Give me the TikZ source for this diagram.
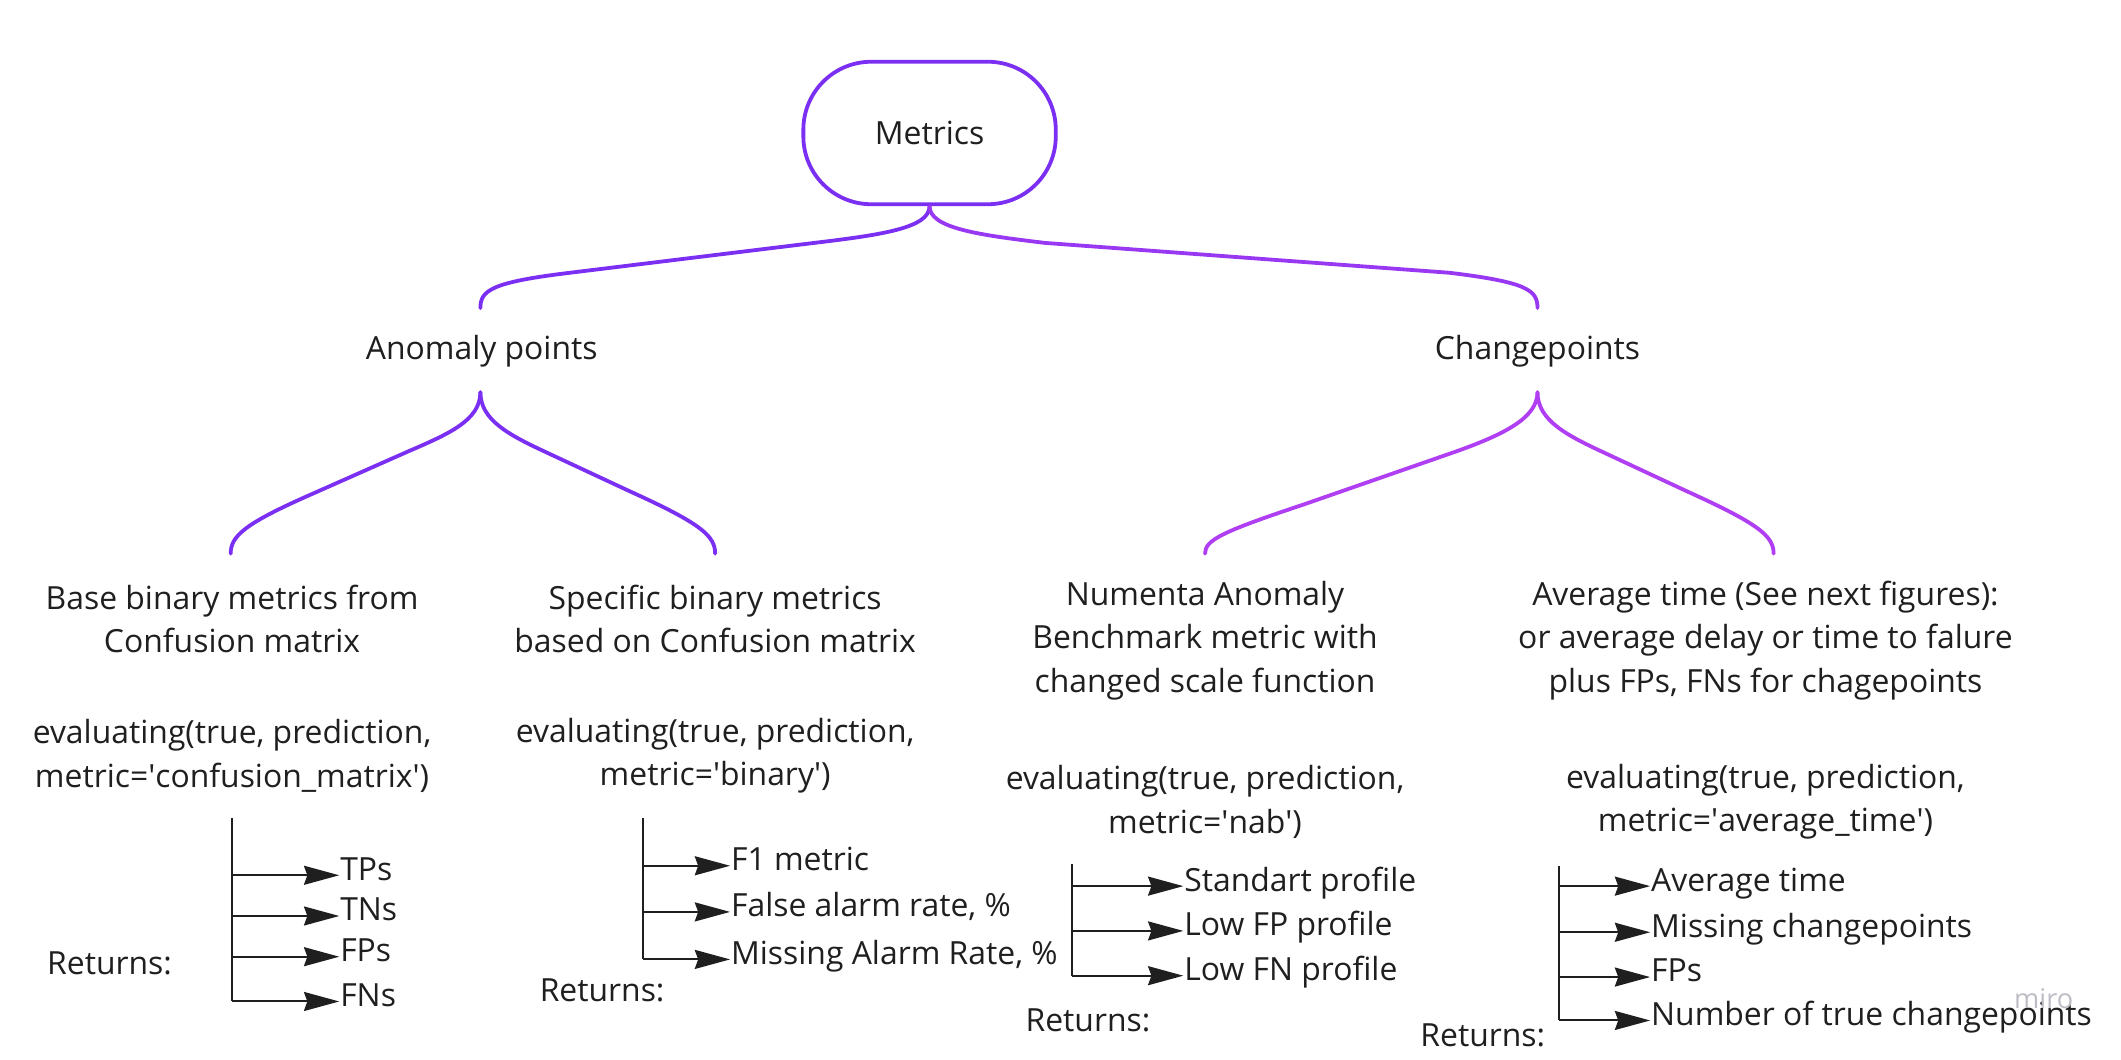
\documentclass[tikz,border=0pt]{standalone}
\usepackage{fontspec}
\setmainfont{Open Sans}
\usetikzlibrary{arrows.meta,calc}
\definecolor{mmviolet}{HTML}{7B2FF2}
\definecolor{mmpurple}{HTML}{9838F2}
\definecolor{mmorchid}{HTML}{B03EF2}
\definecolor{mmtext}{HTML}{1F1F1F}
\definecolor{mmmark}{HTML}{BDBDC6}
\tikzset{every picture/.style={line width=1.5pt}}
\tikzset{
	bracket/.style={line width=2.8pt, line cap=round},
	pill/.style={draw=mmviolet, line width=2.8pt, rounded corners=50pt, minimum width=186pt, minimum height=105pt, text=mmtext},
	txt/.style={align=center, text=mmtext, inner sep=0pt},
	retlabel/.style={anchor=west, text=mmtext, inner sep=0pt},
	leaf/.style={anchor=west, text=mmtext, inner sep=0pt, text height=0.72em, text depth=0pt},
	stem/.style={draw=mmtext, line width=1.5pt},
	leafarrow/.style={draw=mmtext, line width=1.5pt, -{Stealth[length=26pt,width=14pt,inset=2.5pt]}}}
\newcommand{\q}{\textquotesingle}

\begin{document}
\begin{tikzpicture}[x=1pt,y=1pt,yscale=-1,xscale=1,font=\fontsize{23.5pt}{32pt}\selectfont]
	\useasboundingbox (0,0) rectangle (1563,781);

	% Root
	\node[pill] (metrics) at (685,98) {Metrics};
	% Text Node
	\node[txt] (anomaly) at (355,259) {Anomaly points};
	% Text Node
	\node[txt] (change) at (1133,259) {Changepoints};

	\coordinate (ap-top) at (354,227);
	\coordinate (cp-top) at (1133,227);
	\coordinate (ap-bot) at (354,289);
	\coordinate (cp-bot) at (1133,289);
	\coordinate (col1) at (170,408);
	\coordinate (col2) at (527,408);
	\coordinate (col3) at (888,408);
	\coordinate (col4) at (1307,408);

	%Curve Lines
	\draw[bracket, mmviolet] (metrics.south) .. controls (685,168) and (650,173) .. (600,179) -- (420,201) .. controls (362,208) and (354,214) .. (ap-top);
	%Curve Lines
	\draw[bracket, mmpurple] (metrics.south) .. controls (685,168) and (720,173) .. (770,179) -- (1068,201) .. controls (1126,208) and (1133,214) .. (cp-top);
	%Curve Lines
	\draw[bracket, mmviolet] (ap-bot) .. controls (354,310) and (330,320) .. (300,333) -- (230,364) .. controls (180,386) and (170,395) .. (col1);
	\draw[bracket, mmviolet] (ap-bot) .. controls (354,310) and (376,321) .. (404,334) -- (464,362) .. controls (517,386) and (527,395) .. (col2);
	%Curve Lines
	\draw[bracket, mmorchid] (cp-bot) .. controls (1133,308) and (1108,320) .. (1075,332) -- (960,372) .. controls (900,392) and (888,398) .. (col3);
	\draw[bracket, mmorchid] (cp-bot) .. controls (1133,310) and (1155,321) .. (1183,334) -- (1243,362) .. controls (1296,386) and (1307,395) .. (col4);

	% Text Node
	\node[txt] (base) at (171,456) {Base binary metrics from\\Confusion matrix};
	\node[txt] (basecall) at (171,557) {evaluating(true, prediction,\\metric=\q confusion\_matrix\q)};
	% Text Node
	\node[txt] (binary) at (527,456) {Specific binary metrics\\based on Confusion matrix};
	\node[txt] (binarycall) at (527,557) {evaluating(true, prediction,\\metric=\q binary\q)};
	% Text Node
	\node[txt] (nab) at (888,472) {Numenta Anomaly\\Benchmark metric with\\changed scale function};
	\node[txt] (nabcall) at (888,591) {evaluating(true, prediction,\\metric=\q nab\q)};
	% Text Node
	\node[txt] (avg) at (1301,472) {Average time (See next figures):\\or average delay or time to falure\\plus FPs, FNs for chagepoints};
	\node[txt] (avgcall) at (1301,591) {evaluating(true, prediction,\\metric=\q average\_time\q)};

	% Returns: confusion matrix
	\node[retlabel] (ret1) at (34,710) {Returns:};
	\coordinate (s1) at (171,603);
	\node[leaf] (tps) at (250,645) {TPs};
	\node[leaf] (tns) at (250,675) {TNs};
	\node[leaf] (fps) at (250,705) {FPs};
	\node[leaf] (fns) at (250,738) {FNs};
	\draw[stem] (s1) -- (s1 |- fns.west);
	\draw[leafarrow] (s1 |- tps.west) -- (tps.west);
	\draw[leafarrow] (s1 |- tns.west) -- (tns.west);
	\draw[leafarrow] (s1 |- fps.west) -- (fps.west);
	\draw[leafarrow] (s1 |- fns.west) -- (fns.west);

	% Returns: binary
	\node[retlabel] (ret2) at (397,730) {Returns:};
	\coordinate (s2) at (474,603);
	\node[leaf] (fone) at (538,638) {F1 metric};
	\node[leaf] (far) at (538,672) {False alarm rate, \%};
	\node[leaf] (mar) at (538,707) {Missing Alarm Rate, \%};
	\draw[stem] (s2) -- (s2 |- mar.west);
	\draw[leafarrow] (s2 |- fone.west) -- (fone.west);
	\draw[leafarrow] (s2 |- far.west) -- (far.west);
	\draw[leafarrow] (s2 |- mar.west) -- (mar.west);

	% Returns: nab
	\node[retlabel] (ret3) at (755,752) {Returns:};
	\coordinate (s3) at (790,637);
	\node[leaf] (std) at (872,653) {Standart profile};
	\node[leaf] (lowfp) at (872,686) {Low FP profile};
	\node[leaf] (lowfn) at (872,719) {Low FN profile};
	\draw[stem] (s3) -- (s3 |- lowfn.west);
	\draw[leafarrow] (s3 |- std.west) -- (std.west);
	\draw[leafarrow] (s3 |- lowfp.west) -- (lowfp.west);
	\draw[leafarrow] (s3 |- lowfn.west) -- (lowfn.west);

	% Returns: average time
	\node[retlabel] (ret4) at (1046,763) {Returns:};
	\coordinate (s4) at (1149,638);
	\node[leaf] (avgtime) at (1216,653) {Average time};
	\node[leaf] (miss) at (1216,687) {Missing changepoints};
	\node[leaf] (cpfps) at (1216,720) {FPs};
	\node[leaf] (ntrue) at (1216,752) {Number of true changepoints};
	\draw[stem] (s4) -- (s4 |- ntrue.west);
	\draw[leafarrow] (s4 |- avgtime.west) -- (avgtime.west);
	\draw[leafarrow] (s4 |- miss.west) -- (miss.west);
	\draw[leafarrow] (s4 |- cpfps.west) -- (cpfps.west);
	\draw[leafarrow] (s4 |- ntrue.west) -- (ntrue.west);

	% Watermark
	\node[text=mmmark, font=\fontsize{20pt}{22pt}\selectfont] (miro) at (1506,736) {miro};
\end{tikzpicture}
\end{document}
